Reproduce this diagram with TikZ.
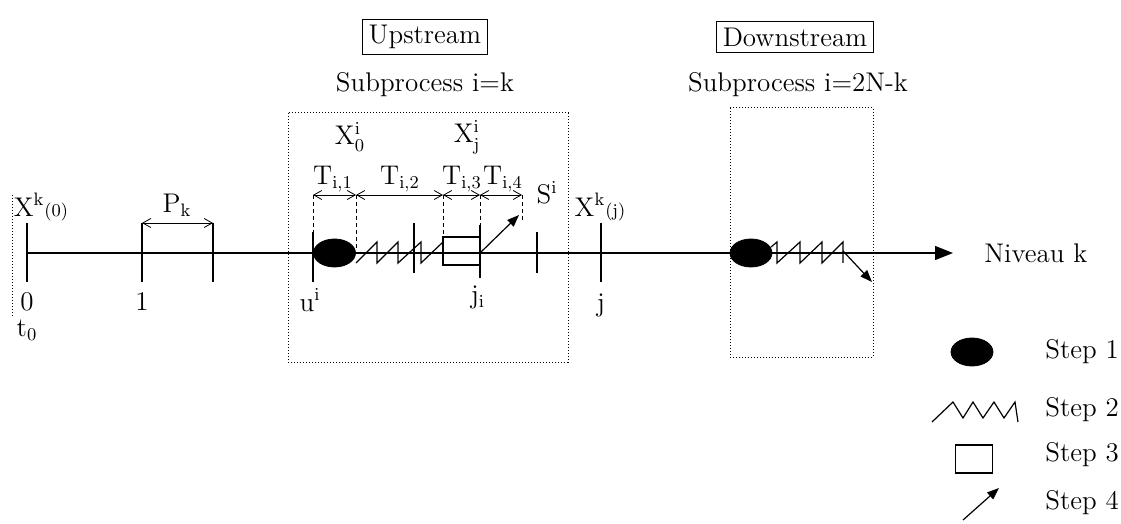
\documentclass[tikz,border=0pt]{standalone}
\usetikzlibrary{arrows.meta,shapes.geometric}
\begin{document}
\begin{tikzpicture}[x=0.5pt,y=-0.5pt,
  every node/.style={font=\fontsize{13.5}{16}\selectfont, inner sep=1pt},
  axis/.style={line width=0.6pt},
  tickline/.style={line width=0.6pt},
  dotbox/.style={densely dotted, line width=0.5pt},
  guide/.style={dashed, dash pattern=on 2pt off 1.5pt, line width=0.45pt},
  dimarrow/.style={line width=0.4pt, {Straight Barb[length=4pt,width=4.5pt]}-{Straight Barb[length=4pt,width=4.5pt]}},
  steparrow/.style={line width=0.6pt, -{Triangle[length=6pt,width=4.5pt]}},
  blob/.style={ellipse, fill=black, draw=black, minimum width=21pt, minimum height=14pt, inner sep=0pt},
  stepbox/.style={rectangle, draw=black, line width=0.6pt, minimum width=18.5pt, minimum height=14pt, inner sep=0pt},
  zig/.style={line width=0.6pt, line join=miter},
  labelbox/.style={draw=black, line width=0.5pt, inner sep=3pt},
  tight/.style={inner sep=0pt}
]
\useasboundingbox (0,0) rectangle (1121,524);

% top labels
\node[labelbox] (up) at (425,37) {Upstream};
\node (subup) at (425,85) {Subprocess i=k};
\node[labelbox] (down) at (795,37) {Downstream};
\node (subdown) at (798,85) {Subprocess i=2N-k};

% dotted boxes
\draw[dotbox] (288,113) rectangle (568,362);
\draw[dotbox] (730,108) rectangle (873,357);

% main axis
\coordinate (a0) at (27,253);
\coordinate (aend) at (953,253);
\draw[axis, -{Triangle[length=9pt,width=7pt]}] (a0) -- (aend);
\node[anchor=west] (niveau) at (982,253) {Niveau k};

% left dotted line
\coordinate (ld1) at (12,195);
\coordinate (ld2) at (12,316);
\draw[densely dotted, line width=0.5pt] (ld1) -- (ld2);

% ticks
\foreach \n/\x/\ya/\yb in {t0/27/223/282, t1/142/223/282, t2/213/223/282, tu/313/232/282, tm/414/223/273, tji/480/225/278, ts/537/232/273, tj/601/223/282}{
  \coordinate (\n a) at (\x,\ya);
  \coordinate (\n b) at (\x,\yb);
  \draw[tickline] (\n a) -- (\n b);
}

% left labels
\node (xk0) at (41,207) {X$^{\mathrm{k}}$\small(0)};
\node (l0) at (27,302) {0};
\node (lt0) at (27,330) {t$_0$};
\node (l1) at (142,302) {1};
\node (pk) at (177,205) {P$_{\mathrm{k}}$};
\draw[dimarrow] (t1a) -- (t2a);
\node (xkj) at (600,207) {X$^{\mathrm{k}}$\small(j)};
\node (lj) at (601,305) {j};
\node (lu) at (310,300) {u$^{\mathrm{i}}$};
\node (lji) at (478,297) {j$_{\mathrm{i}}$};

% upstream content
\node[blob] (e1) at (334.5,253) {};
\node[stepbox] (r1) at (461.5,251) {};
\draw[zig] (356,263) -- (377,242) -- (377,263) -- (398,242) -- (398,263) -- (421,242) -- (421,263) -- (443,242);
\coordinate (s4a) at (480,253);
\coordinate (s4b) at (519,215);
\draw[steparrow] (s4a) -- (s4b);

% dimension marks
\coordinate (d1) at (313,195);
\coordinate (d2) at (356,195);
\coordinate (d3) at (443,195);
\coordinate (d4) at (480,195);
\coordinate (d5) at (522,195);
\coordinate (g1) at (313,246);
\coordinate (g2) at (356,250);
\coordinate (g3) at (443,237);
\coordinate (g4) at (480,225);
\coordinate (g5) at (522,222);
\foreach \i in {1,...,5}{ \draw[guide] (d\i) -- (g\i); }
\draw[dimarrow] (d1) -- (d2);
\draw[dimarrow] (d2) -- (d3);
\draw[dimarrow] (d3) -- (d4);
\draw[dimarrow] (d4) -- (d5);
\node[tight] (x0) at (350,137) {X$^{\mathrm{i}}_{0}$};
\node[tight] (xj) at (467,137) {X$^{\mathrm{i}}_{\mathrm{j}}$};
\node[tight] (T1) at (333,179) {T$_{\mathrm{i,1}}$};
\node[tight] (T2) at (400,179) {T$_{\mathrm{i,2}}$};
\node[tight] (T3) at (462,179) {T$_{\mathrm{i,3}}$};
\node[tight] (T4) at (503,179) {T$_{\mathrm{i,4}}$};
\node (Si) at (547,193) {S$^{\mathrm{i}}$};

% downstream content
\node[blob] (e2) at (751,253) {};
\draw[zig] (771,247) -- (777,242) -- (777,263) -- (800,242) -- (800,263) -- (822,242) -- (822,263) -- (843,242) -- (843,263);
\coordinate (s4c) at (843,251);
\coordinate (s4d) at (872,282);
\draw[steparrow] (s4c) -- (s4d);

% legend
\node[blob] (le1) at (972,352) {};
\node[anchor=west] (st1) at (1043,352) {Step 1};
\draw[zig] (932,422) -- (953,402) -- (963,418) -- (973,402) -- (983,418) -- (994,402) -- (1004,418) -- (1015,402) -- (1018,422);
\node[anchor=west] (st2) at (1043,410) {Step 2};
\node[stepbox] (le3) at (974,459) {};
\node[anchor=west] (st3) at (1043,455) {Step 3};
\coordinate (la1) at (963,520);
\coordinate (la2) at (999,488);
\draw[steparrow] (la1) -- (la2);
\node[anchor=west] (st4) at (1043,503) {Step 4};
\end{tikzpicture}
\end{document}
